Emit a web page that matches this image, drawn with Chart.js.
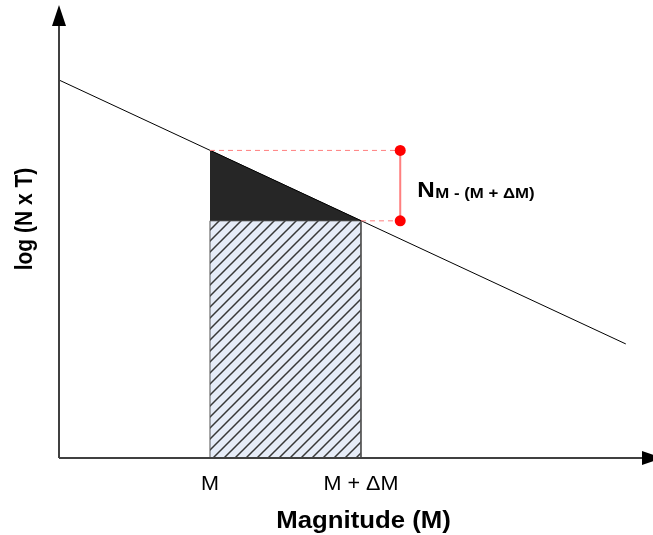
<!DOCTYPE html>
<html>
<head>
<meta charset="utf-8">
<script src="https://cdn.jsdelivr.net/npm/chart.js@4/dist/chart.umd.min.js"></script>
<style>
  html, body { margin: 0; padding: 0; background: #fff; }
  #wrap { width: 653px; height: 535px; }
</style>
</head>
<body>
<div id="wrap"><canvas id="chart" width="653" height="535"></canvas></div>
<script>
// Magnitude axis ticks
const tickValues = [5, 10];
const tickLabels = ['M', 'M + ΔM'];

// log(N x T) against magnitude: straight line end points
const lineX = [0, 18.77];
const lineY = [8.75, 2.64];

// magnitude bin [M, M + ΔM] and the line value at each edge
const binX = [5, 10];
const binY = [7.12, 5.49];

// x position of the red bracket
const bracketX = 11.3;

const axisMax = { x: 19.24, y: 10 };

const FONT = "'Liberation Sans', Arial, sans-serif";

// diagonal hatch for the bin rectangle
function makeHatch() {
    const c = document.createElement('canvas');
    c.width = 11; c.height = 11;
    const g = c.getContext('2d');
    g.fillStyle = '#e6ecf8';
    g.fillRect(0, 0, 11, 11);
    g.strokeStyle = '#383838';
    g.lineWidth = 1.5;
    g.beginPath();
    g.moveTo(-2, 13); g.lineTo(13, -2);
    g.moveTo(-2, 2); g.lineTo(2, -2);
    g.moveTo(9, 13); g.lineTo(13, 9);
    g.stroke();
    return g.createPattern(c, 'repeat');
}

// text with a slight horizontal stretch
function stretchText(ctx, text, x, y, font, align, sx) {
    ctx.save();
    ctx.translate(x, y);
    ctx.scale(sx, 1);
    ctx.font = font;
    ctx.textAlign = align;
    ctx.textBaseline = 'alphabetic';
    ctx.fillText(text, 0, 0);
    ctx.restore();
}

const pts = (xs, ys) => xs.map((x, i) => ({ x: x, y: ys[i] }));

const axesPlugin = {
    id: 'axesPlugin',
    afterDraw(chart) {
        const ctx = chart.ctx;
        const a = chart.chartArea;
        const sx = chart.scales.x, sy = chart.scales.y;
        ctx.save();

        // axis lines
        ctx.strokeStyle = '#404040';
        ctx.lineWidth = 2;
        ctx.beginPath();
        ctx.moveTo(a.left, a.bottom);
        ctx.lineTo(a.left, a.top);
        ctx.moveTo(a.left, a.bottom);
        ctx.lineTo(a.right + 3, a.bottom);
        ctx.stroke();

        // arrow heads
        ctx.fillStyle = '#000';
        ctx.beginPath();
        ctx.moveTo(a.left, a.top - 21);
        ctx.lineTo(a.left - 7, a.top);
        ctx.lineTo(a.left + 7, a.top);
        ctx.closePath();
        ctx.fill();
        ctx.beginPath();
        ctx.moveTo(a.right + 23, a.bottom);
        ctx.lineTo(a.right + 2, a.bottom - 7);
        ctx.lineTo(a.right + 2, a.bottom + 7);
        ctx.closePath();
        ctx.fill();

        // tick labels
        ctx.fillStyle = '#000';
        tickValues.forEach((v, i) => {
            stretchText(ctx, tickLabels[i], sx.getPixelForValue(v), a.bottom + 32,
                '20px ' + FONT, 'center', 1.08);
        });

        // axis titles
        stretchText(ctx, 'Magnitude (M)', (a.left + a.right) / 2 + 14, a.bottom + 70,
            'bold 23px ' + FONT, 'center', 1.12);

        ctx.save();
        ctx.translate(32, 219);
        ctx.rotate(-Math.PI / 2);
        ctx.scale(1, 1.12);
        ctx.font = 'bold 21px ' + FONT;
        ctx.textAlign = 'center';
        ctx.textBaseline = 'alphabetic';
        ctx.fillText('log (N x T)', 0, 0);
        ctx.restore();

        // count label beside the bracket
        const bx = sx.getPixelForValue(bracketX);
        const by = (sy.getPixelForValue(binY[0]) + sy.getPixelForValue(binY[1])) / 2;
        stretchText(ctx, 'N', bx + 17, by + 11, 'bold 22px ' + FONT, 'left', 1.1);
        stretchText(ctx, 'M - (M + ΔM)', bx + 35, by + 12, 'bold 14px ' + FONT, 'left', 1.2);

        ctx.restore();
    }
};

const ctx = document.getElementById('chart').getContext('2d');
const red = '#ff7f7f';

new Chart(ctx, {
    type: 'scatter',
    data: {
        datasets: [
            {
                // hatched bin below the line
                data: pts([binX[0], binX[0], binX[1], binX[1]], [0, binY[1], binY[1], 0]),
                showLine: true,
                fill: 'origin',
                backgroundColor: makeHatch(),
                borderColor: '#555',
                borderWidth: 1,
                pointRadius: 0,
                order: 6
            },
            {
                // dark triangle between the line and the bin top
                data: pts(binX, binY),
                showLine: true,
                fill: { value: binY[1] },
                backgroundColor: '#262626',
                borderColor: '#262626',
                borderWidth: 1,
                pointRadius: 0,
                order: 5
            },
            {
                data: pts(lineX, lineY),
                showLine: true,
                borderColor: '#000',
                borderWidth: 1,
                pointRadius: 0,
                order: 4
            },
            {
                data: pts([binX[0], bracketX], [binY[0], binY[0]]),
                showLine: true,
                borderColor: red,
                borderWidth: 1,
                borderDash: [5, 4],
                pointRadius: 0,
                order: 3
            },
            {
                data: pts([binX[1], bracketX], [binY[1], binY[1]]),
                showLine: true,
                borderColor: red,
                borderWidth: 1,
                borderDash: [5, 4],
                pointRadius: 0,
                order: 2
            },
            {
                data: pts([bracketX, bracketX], binY),
                showLine: true,
                borderColor: red,
                borderWidth: 2,
                pointRadius: 5.5,
                pointBackgroundColor: '#ff0000',
                pointBorderWidth: 0,
                order: 1
            }
        ]
    },
    options: {
        responsive: false,
        animation: false,
        layout: { padding: { left: 59, right: 13, top: 26, bottom: 77 } },
        plugins: {
            legend: { display: false },
            tooltip: { enabled: false }
        },
        scales: {
            x: { type: 'linear', min: 0, max: axisMax.x, display: false },
            y: { type: 'linear', min: 0, max: axisMax.y, display: false }
        }
    },
    plugins: [axesPlugin]
});
</script>
</body>
</html>
